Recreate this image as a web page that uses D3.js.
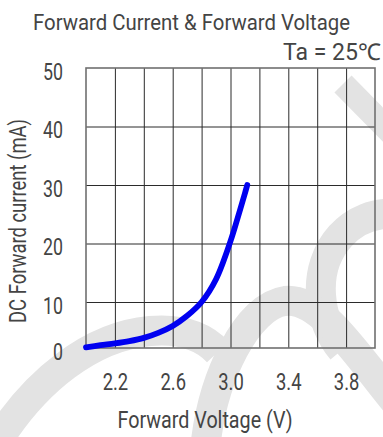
<!DOCTYPE html>
<html>
<head>
<meta charset="utf-8">
<script src="https://cdn.jsdelivr.net/npm/d3@7/dist/d3.min.js"></script>
<style>
  html, body { margin: 0; padding: 0; background: #fff; }
  svg { display: block; }
  text { font-family: Roboto, "Liberation Sans", sans-serif; font-weight: 400; fill: #444; }
</style>
</head>
<body>
<svg id="chart" width="383" height="437"></svg>
<script>
// ---- data ----
const voltages = [2.0, 2.1, 2.2, 2.3, 2.4, 2.5, 2.6, 2.7, 2.8, 2.9, 3.0, 3.05, 3.1, 3.116];
const currents = [0.15, 0.6, 1.0, 1.5, 2.2, 3.3, 4.8, 7.0, 10.0, 13.9, 20.4, 24.4, 28.6, 30.0];
const xTickLabels = ["2.2", "2.6", "3.0", "3.4", "3.8"];
const xTickValues = [2.2, 2.6, 3.0, 3.4, 3.8];
const yTickValues = [0, 10, 20, 30, 40, 50];
const xGridValues = [2.0, 2.2, 2.4, 2.6, 2.8, 3.0, 3.2, 3.4, 3.6, 3.8, 4.0];
const titleText = "Forward Current & Forward Voltage";
const condText = "Ta = 25\u2103";
const xTitle = "Forward Voltage (V)";
const yTitle = "DC Forward current (mA)";

const svg = d3.select("#chart");
const pL = 86, pR = 375, pT = 68, pB = 348;

const x = d3.scaleLinear().domain([2.0, 4.0]).range([pL, pR]);
// the reference's bottom band (0-10) is compressed compared with the others
const y = d3.scaleLinear().domain([0, 10, 50]).range([pB, 302, pT]);

// squeeze text horizontally to imitate the condensed face of the reference
function condense(sel, factor) {
  sel.each(function () {
    const w = this.getComputedTextLength();
    d3.select(this).attr("textLength", w * factor).attr("lengthAdjust", "spacingAndGlyphs");
  });
}

// ---- watermark (light grey swooshes behind the chart) ----
const wm = svg.append("g").attr("fill", "none").attr("stroke", "#e3e3e3").attr("stroke-linecap", "butt");
wm.append("path").attr("d", "M343,84 L400,142").attr("stroke-width", 24);
wm.append("path").attr("d", "M398,214 C350,210 318,250 321,295 C323,322 332,338 342,350").attr("stroke-width", 30);
wm.append("path").attr("d", "M-5,445 C35,380 92,336 150,331 C185,328 205,338 218,352").attr("stroke-width", 30);
wm.append("path").attr("d", "M205,450 C212,375 248,306 285,301 C322,297 360,360 398,405").attr("stroke-width", 30);

// ---- grid ----
const grid = svg.append("g");
grid.append("g")
  .attr("transform", `translate(0,${pB})`)
  .call(d3.axisBottom(x).tickValues(xGridValues.slice(1, -1)).tickSize(-(pB - pT)).tickFormat(""))
  .call(g => g.select(".domain").remove())
  .call(g => g.selectAll(".tick line").attr("stroke", "#2b2b2b").attr("stroke-width", 1));
grid.append("g")
  .attr("transform", `translate(${pL},0)`)
  .call(d3.axisLeft(y).tickValues(yTickValues.slice(1, -1)).tickSize(-(pR - pL)).tickFormat(""))
  .call(g => g.select(".domain").remove())
  .call(g => g.selectAll(".tick line").attr("stroke", "#2b2b2b").attr("stroke-width", 1));
grid.append("rect")
  .attr("x", x(2.0)).attr("y", y(50))
  .attr("width", x(4.0) - x(2.0)).attr("height", y(0) - y(50))
  .attr("fill", "none").attr("stroke", "#707070").attr("stroke-width", 1.6);

// ---- curve ----
const line = d3.line().x((d, i) => x(voltages[i])).y(d => y(d)).curve(d3.curveCatmullRom.alpha(0.5));
svg.append("path").datum(currents)
  .attr("d", line)
  .attr("fill", "none").attr("stroke", "#0000f0").attr("stroke-width", 5.8)
  .attr("stroke-linecap", "round").attr("stroke-linejoin", "round");

// ---- axes labels ----
const xAx = svg.append("g")
  .attr("transform", `translate(0,${pB})`)
  .call(d3.axisBottom(x).tickValues(xTickValues).tickSize(0).tickPadding(26).tickFormat((d, i) => xTickLabels[i]));
xAx.select(".domain").remove();
xAx.selectAll("text").attr("font-size", 23).attr("fill", "#444")
  .style("font-family", "Roboto, sans-serif").style("font-weight", 400)
  .call(condense, 0.8);

const yAx = svg.append("g")
  .attr("transform", `translate(${pL},0)`)
  .call(d3.axisLeft(y).tickValues(yTickValues).tickSize(0).tickPadding(23).tickFormat(d => String(d)));
yAx.select(".domain").remove();
yAx.selectAll("text").attr("font-size", 24).attr("fill", "#444").attr("dy", "0.46em")
  .style("font-family", "Roboto, sans-serif").style("font-weight", 400)
  .call(condense, 0.74);

// ---- titles ----
svg.append("text").attr("x", 33).attr("y", 30).attr("font-size", 22)
  .attr("textLength", 317).attr("lengthAdjust", "spacingAndGlyphs").text(titleText);
svg.append("text").attr("x", 381).attr("y", 60).attr("font-size", 23).attr("text-anchor", "end")
  .attr("textLength", 98).attr("lengthAdjust", "spacingAndGlyphs").text(condText);
svg.append("text").attr("x", 205).attr("y", 428).attr("font-size", 24).attr("text-anchor", "middle")
  .attr("textLength", 175).attr("lengthAdjust", "spacingAndGlyphs").text(xTitle);
svg.append("text").attr("transform", "translate(26,221) rotate(-90)").attr("font-size", 24).attr("text-anchor", "middle")
  .attr("textLength", 204).attr("lengthAdjust", "spacingAndGlyphs").text(yTitle);
</script>
</body>
</html>
